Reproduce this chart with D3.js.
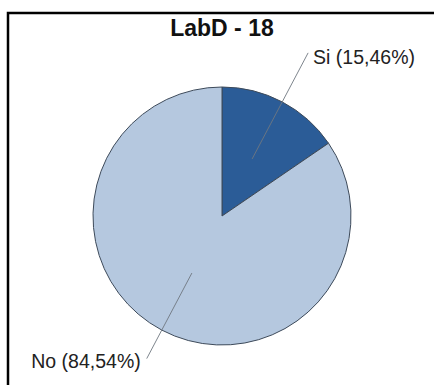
<!DOCTYPE html>
<html>
<head>
<meta charset="utf-8">
<script src="https://cdn.jsdelivr.net/npm/d3@7"></script>
<style>
  body { margin: 0; background: #fff; }
  svg { display: block; font-family: "Liberation Sans", Arial, sans-serif; }
</style>
</head>
<body>
<div id="chart"></div>
<script>
// pie of Si / No shares
const title = "LabD - 18";
const labels = ["Si", "No"];
const values = [15.46, 84.54];

const width = 434;
const height = 385;
const cx = 222;
const cy = 216;
const r = 129;

const colors = ["#2b5c97", "#b5c8df"];
// how far out each leader line goes, as a share of the radius
const leaderOut = [1.43, 1.25];

const svg = d3
  .select("#chart")
  .append("svg")
  .attr("width", width)
  .attr("height", height);

// frame (only left and top edges show in the crop)
svg
  .append("rect")
  .attr("x", 8)
  .attr("y", 13)
  .attr("width", 600)
  .attr("height", 600)
  .attr("fill", "none")
  .attr("stroke", "#000")
  .attr("stroke-width", 2.5);

svg
  .append("text")
  .attr("x", cx)
  .attr("y", 36)
  .attr("text-anchor", "middle")
  .attr("font-size", 23)
  .attr("font-weight", "bold")
  .attr("fill", "#111")
  .text(title);

const pie = d3.pie().sort(null).value((d) => d.value);
const data = labels.map((label, i) => ({ label, value: values[i] }));
const arcs = pie(data);

const arc = d3.arc().innerRadius(0).outerRadius(r);

const g = svg.append("g").attr("transform", `translate(${cx},${cy})`);

g.selectAll("path")
  .data(arcs)
  .join("path")
  .attr("d", arc)
  .attr("fill", (d, i) => colors[i])
  .attr("stroke", "#3d4a5a")
  .attr("stroke-width", 1);

// leader lines from the slice centroid outwards
arcs.forEach((d, i) => {
  const mid = (d.startAngle + d.endAngle) / 2;
  const [x0, y0] = arc.centroid(d);
  const x1 = Math.sin(mid) * r * leaderOut[i];
  const y1 = -Math.cos(mid) * r * leaderOut[i];

  g.append("line")
    .attr("x1", x0)
    .attr("y1", y0)
    .attr("x2", x1)
    .attr("y2", y1)
    .attr("stroke", "#6f7780")
    .attr("stroke-width", 0.9);

  const right = x1 > 0;
  g.append("text")
    .attr("x", right ? x1 + 5 : x1 - 6)
    .attr("y", right ? y1 + 11 : y1 + 9)
    .attr("text-anchor", right ? "start" : "end")
    .attr("font-size", 19.5)
    .attr("fill", "#222")
    .text(`${d.data.label} (${d3.format(".2f")(d.data.value).replace(".", ",")}%)`);
});
</script>
</body>
</html>
